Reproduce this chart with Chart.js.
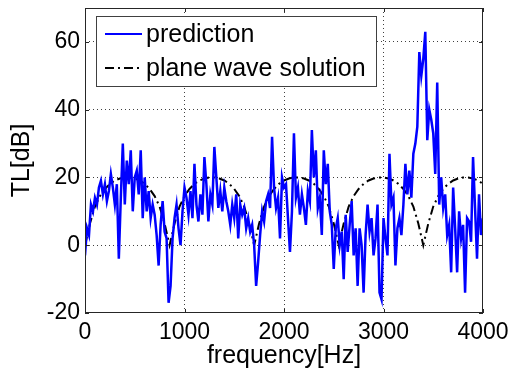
<!DOCTYPE html>
<html>
<head>
<meta charset="utf-8">
<script src="https://cdn.jsdelivr.net/npm/chart.js@4.4.1/dist/chart.umd.min.js"></script>
<style>
html, body { margin: 0; padding: 0; background: #fff; }
#wrap { width: 518px; height: 373px; }
</style>
</head>
<body>
<div id="wrap"><canvas id="chart"></canvas></div>
<script>
// Axis ticks
const xTicks = [0, 1000, 2000, 3000, 4000];
const yTicks = [-20, 0, 20, 40, 60];

// Prediction, sampled every 20 Hz from 0 Hz
const predictionStepHz = 20;
const prediction = [
    -3, 5, 3, 12, 10, 14, 12, 17, 19, 15, 18, 13, 16, 21, 17, 12, 18, -4, 14, 30, 12, 25, 18, 28, 10, 20,
    22, 15, 28, 8, 20, 10, 16, 8, 12, 9, 3, -6, 6, 13, 4, 2, -17, -12, 2, 8, 12, 5, 0, 10, 17,
    14, 9, 16, 8, 24, 12, 7, 15, 9, 26, 18, 7, 15, 12, 29, 20, 11, 16, 10, 17, 13, 10, 6, 12, 8,
    15, 2, 12, 9, 11, 5, 8, 4, 6, 0, -12, -5, 3, 10, 7, 13, 15, 11, 32, 17, 11, 14, 2, 20, 17,
    18, 8, -2, 10, 33, 14, 17, 9, 15, 11, 6, 16, 13, 34, 20, 28, 11, 14, 3, 28, 18, 24, 10, 6, -7,
    5, 8, 0, 4, -10, 9, -2, 6, 13, -3, 5, -12, 5, 0, -14, 3, 12, 4, 8, -3, 2, 12, -14, -16, 8,
    2, -3, 27, 12, 14, -6, 5, 8, 3, 12, 24, 15, 22, 14, 27, 30, 35, 57, 50, 55, 63, 31, 40, 37, 33,
    21, 48, 12, 20, 11, 15, 3, 6, -8, 17, 5, -8, 10, 2, 6, -14, 8, 7, 1, 26, 11, -4, 15, 3, 8
];

// Plane wave solution, sampled every 50 Hz from 0 Hz
const planeWaveStepHz = 50;
const planeWave = [
    0, 6.4, 11.4, 14.5, 16.6, 18.1, 19.1, 19.7, 20.0, 20.0, 19.7, 19.1, 18.1, 16.6, 14.5, 11.4, 6.4,
    0, 6.4, 11.4, 14.5, 16.6, 18.1, 19.1, 19.7, 20.0, 20.0, 19.7, 19.1, 18.1, 16.6, 14.5, 11.4, 6.4,
    0, 6.4, 11.4, 14.5, 16.6, 18.1, 19.1, 19.7, 20.0, 20.0, 19.7, 19.1, 18.1, 16.6, 14.5, 11.4, 6.4,
    0, 6.4, 11.4, 14.5, 16.6, 18.1, 19.1, 19.7, 20.0, 20.0, 19.7, 19.1, 18.1, 16.6, 14.5, 11.4, 6.4,
    0, 6.4, 11.4, 14.5, 16.6, 18.1, 19.1, 19.7, 20.0, 20.0, 19.7, 19.1, 18.1
];

const FONT = '"Liberation Sans", Arial, Helvetica, sans-serif';
Chart.defaults.font.family = FONT;
Chart.defaults.color = '#000';

const toPoints = (values, step) => values.map((v, i) => ({ x: i * step, y: v }));

// Grid only on inner ticks
const innerGrid = (min, max) => ctx =>
    (ctx.tick && ctx.tick.value > min && ctx.tick.value < max) ? '#404040' : 'rgba(0,0,0,0)';

// Axes box, inward tick marks and a MATLAB-like legend inside the plot
const frameAndLegend = {
    id: 'frameAndLegend',
    afterDraw(chart) {
        const { ctx, chartArea: a, scales: { x, y } } = chart;
        ctx.save();
        ctx.strokeStyle = '#262626';
        ctx.lineWidth = 1;
        ctx.strokeRect(a.left + 0.5, a.top + 0.5, a.right - a.left - 1, a.bottom - a.top - 1);

        ctx.beginPath();
        xTicks.forEach(v => {
            const px = Math.round(x.getPixelForValue(v)) + 0.5;
            ctx.moveTo(px, a.bottom); ctx.lineTo(px, a.bottom - 4);
            ctx.moveTo(px, a.top); ctx.lineTo(px, a.top + 4);
        });
        yTicks.forEach(v => {
            const py = Math.round(y.getPixelForValue(v)) + 0.5;
            ctx.moveTo(a.left, py); ctx.lineTo(a.left + 4, py);
            ctx.moveTo(a.right, py); ctx.lineTo(a.right - 4, py);
        });
        ctx.stroke();

        // legend box
        const bx = a.left + 11, by = a.top + 8, bw = 280, bh = 70;
        ctx.fillStyle = '#fff';
        ctx.fillRect(bx, by, bw, bh);
        ctx.strokeStyle = '#404040';
        ctx.strokeRect(bx + 0.5, by + 0.5, bw, bh);

        ctx.font = '25px ' + FONT;
        ctx.textBaseline = 'middle';
        ctx.textAlign = 'left';
        chart.data.datasets.forEach((ds, i) => {
            const rowY = by + 18 + i * 34;
            ctx.beginPath();
            ctx.strokeStyle = ds.borderColor;
            ctx.lineWidth = 2;
            ctx.setLineDash(ds.borderDash || []);
            ctx.moveTo(bx + 9, rowY);
            ctx.lineTo(bx + 46, rowY);
            ctx.stroke();
            ctx.setLineDash([]);
            ctx.fillStyle = '#000';
            ctx.fillText(ds.label, bx + 50, rowY + 1);
        });
        ctx.restore();
    }
};

new Chart(document.getElementById('chart'), {
    type: 'line',
    data: {
        datasets: [{
            label: 'prediction',
            data: toPoints(prediction, predictionStepHz),
            borderColor: '#0000ff',
            borderWidth: 2.5,
            pointRadius: 0,
            tension: 0
        }, {
            label: 'plane wave solution',
            data: toPoints(planeWave, planeWaveStepHz),
            borderColor: '#000000',
            borderWidth: 2,
            borderDash: [9, 4, 2, 4],
            pointRadius: 0,
            tension: 0
        }]
    },
    options: {
        responsive: true,
        maintainAspectRatio: false,
        animation: false,
        devicePixelRatio: 1,
        layout: { padding: { top: 8, right: 35, left: 0, bottom: 0 } },
        plugins: {
            legend: { display: false },
            tooltip: { enabled: false }
        },
        scales: {
            x: {
                type: 'linear',
                min: 0,
                max: 4000,
                afterBuildTicks: scale => { scale.ticks = xTicks.map(v => ({ value: v })); },
                afterFit: scale => { scale.height = 60; scale.paddingLeft = 0; scale.paddingRight = 0; },
                ticks: { font: { size: 23 }, color: '#000', padding: 6, maxRotation: 0, callback: v => String(v) },
                grid: { color: innerGrid(0, 4000), drawTicks: false, lineWidth: 1 },
                border: { display: false, dash: [1, 3] },
                title: { display: true, text: 'frequency[Hz]', font: { size: 25 }, color: '#000', padding: { top: 0, bottom: 2 } }
            },
            y: {
                type: 'linear',
                min: -20,
                max: 70,
                afterBuildTicks: scale => { scale.ticks = yTicks.map(v => ({ value: v })); },
                afterFit: scale => { scale.width = 85; scale.paddingTop = 0; scale.paddingBottom = 0; },
                ticks: { font: { size: 23 }, color: '#000', padding: 5, callback: v => String(v) },
                grid: { color: innerGrid(-20, 70), drawTicks: false, lineWidth: 1 },
                border: { display: false, dash: [1, 3] },
                title: { display: true, text: 'TL[dB]', font: { size: 25 }, color: '#000', padding: { top: 7, bottom: 0 } }
            }
        }
    },
    plugins: [frameAndLegend]
});
</script>
</body>
</html>
